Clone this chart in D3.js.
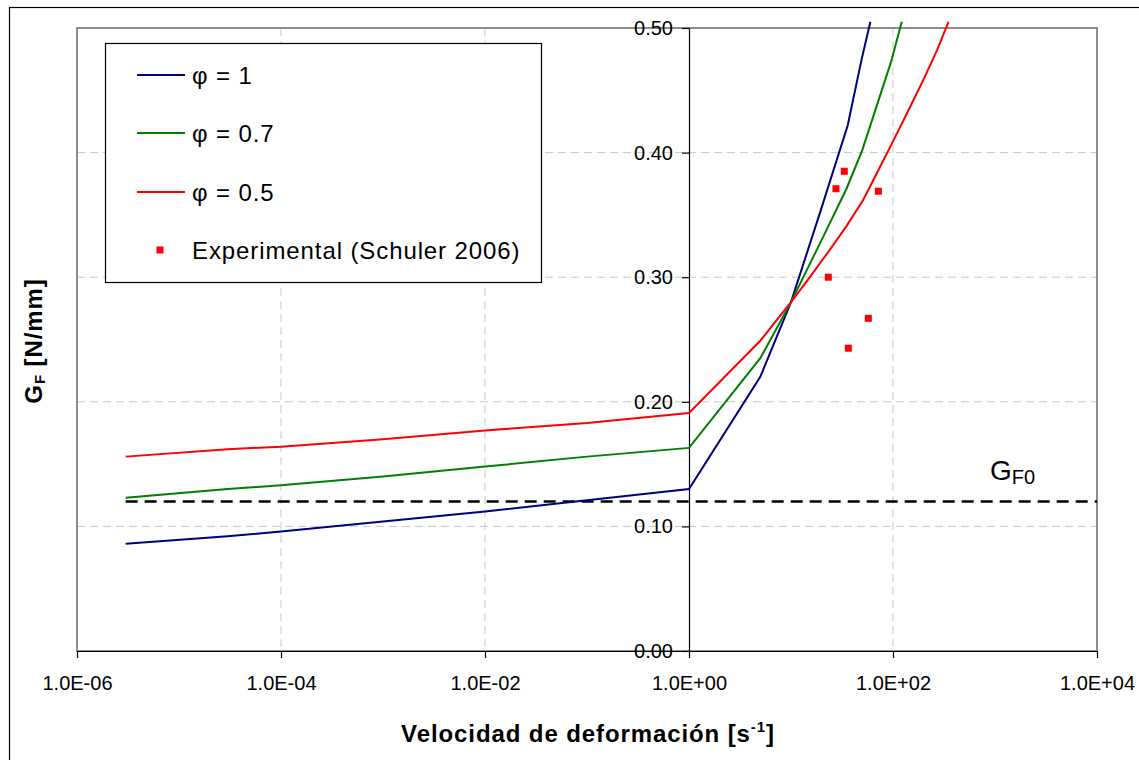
<!DOCTYPE html>
<html lang="es">
<head>
  <meta charset="UTF-8">
  <title>GF vs velocidad de deformación</title>
  <script src="https://d3js.org/d3.v7.min.js"></script>
  <style>
    body { margin: 0; padding: 0; background: #fff; }
    svg { display: block; font-family: "Liberation Sans", Arial, sans-serif; }
    .tick text { font-size: 20px; fill: #000; }
  </style>
</head>
<body>
  <div id="chart"></div>

  <script>
    // Data
    const rateBlue = [3e-6, 3e-5, 1e-4, 1e-3, 1e-2, 1e-1, 1, 5, 10, 20, 36, 49, 60];
    const gfBlue   = [0.086, 0.092, 0.096, 0.104, 0.112, 0.121, 0.130, 0.220, 0.280, 0.356, 0.422, 0.474, 0.505];

    const rateGreen = [3e-6, 3e-5, 1e-4, 1e-3, 1e-2, 1e-1, 1, 5, 10, 20, 35, 50, 95, 122];
    const gfGreen   = [0.123, 0.130, 0.133, 0.140, 0.148, 0.156, 0.163, 0.235, 0.280, 0.330, 0.371, 0.402, 0.472, 0.505];

    const rateRed = [3e-6, 3e-5, 1e-4, 1e-3, 1e-2, 1e-1, 1, 5, 10, 15, 24, 35, 51, 70, 100, 150, 200, 270, 350];
    const gfRed   = [0.156, 0.162, 0.164, 0.170, 0.177, 0.183, 0.191, 0.249, 0.280, 0.299, 0.322, 0.341, 0.362, 0.384, 0.409, 0.438, 0.459, 0.482, 0.505];

    const rateExp = [23.2, 27.6, 33.3, 36.5, 57.3, 71.8];
    const gfExp   = [0.300, 0.371, 0.385, 0.243, 0.267, 0.369];

    const rateGF0 = [3e-6, 1e4];
    const gfGF0   = [0.12, 0.12];

    const xTicks = [1e-6, 1e-4, 1e-2, 1, 1e2, 1e4];
    const yTicks = [0, 0.1, 0.2, 0.3, 0.4, 0.5];

    const legendLabels = ["φ = 1", "φ = 0.7", "φ = 0.5", "Experimental (Schuler 2006)"];
    const seriesColors = ["#000080", "#008000", "#ff0000"];

    const width = 1139, height = 760;
    const plotLeft = 77, plotRight = 1097, plotTop = 28, plotBottom = 651;

    const svg = d3.select("#chart")
      .append("svg")
      .attr("width", width)
      .attr("height", height);

    // Outer chart frame
    svg.append("rect")
      .attr("x", 9.5).attr("y", 7.5)
      .attr("width", 1140).attr("height", 760)
      .attr("fill", "none")
      .attr("stroke", "#000")
      .attr("stroke-width", 1.2);

    const x = d3.scaleLog().domain([1e-6, 1e4]).range([plotLeft, plotRight]);
    const y = d3.scaleLinear().domain([0, 0.5]).range([plotBottom, plotTop]);

    // Gridlines
    svg.append("g")
      .selectAll("line")
      .data([1e-4, 1e-2, 1e2])
      .join("line")
      .attr("x1", d => x(d)).attr("x2", d => x(d))
      .attr("y1", plotTop).attr("y2", plotBottom)
      .attr("stroke", "#c8c8c8")
      .attr("stroke-dasharray", "8,5");

    svg.append("g")
      .selectAll("line")
      .data(yTicks.slice(1, 5))
      .join("line")
      .attr("x1", plotLeft).attr("x2", plotRight)
      .attr("y1", d => y(d)).attr("y2", d => y(d))
      .attr("stroke", "#c8c8c8")
      .attr("stroke-dasharray", "8,5");

    // Plot area border
    svg.append("rect")
      .attr("x", plotLeft).attr("y", plotTop)
      .attr("width", plotRight - plotLeft).attr("height", plotBottom - plotTop)
      .attr("fill", "none")
      .attr("stroke", "#8c8c8c")
      .attr("stroke-width", 2);

    // Axes
    const fmtExp = d => {
      const e = Math.round(Math.log10(d));
      return "1.0E" + (e < 0 ? "-" : "+") + String(Math.abs(e)).padStart(2, "0");
    };

    const xAxis = svg.append("g")
      .attr("transform", `translate(0, ${plotBottom})`)
      .call(d3.axisBottom(x).tickValues(xTicks).tickFormat(fmtExp)
        .tickSize(7).tickSizeOuter(0).tickPadding(18));

    const yAxis = svg.append("g")
      .attr("transform", `translate(${x(1)}, 0)`)
      .call(d3.axisLeft(y).tickValues(yTicks).tickFormat(d3.format(".2f"))
        .tickSize(7).tickSizeOuter(0).tickPadding(9));

    [xAxis, yAxis].forEach(a => {
      a.attr("font-family", null).attr("font-size", null);
      a.selectAll("path, line").attr("stroke", "#000").attr("stroke-width", 1.2);
    });

    // GF0 reference line
    const line = d3.line().x(d => x(d[0])).y(d => y(d[1]));

    svg.append("path")
      .datum(d3.zip(rateGF0, gfGF0))
      .attr("d", line)
      .attr("fill", "none")
      .attr("stroke", "#000")
      .attr("stroke-width", 2.5)
      .attr("stroke-dasharray", "12,7");

    // Model curves
    const series = [
      [rateBlue, gfBlue],
      [rateGreen, gfGreen],
      [rateRed, gfRed]
    ];

    series.forEach((s, i) => {
      svg.append("path")
        .datum(d3.zip(s[0], s[1]))
        .attr("d", line)
        .attr("fill", "none")
        .attr("stroke", seriesColors[i])
        .attr("stroke-width", 2);
    });

    // Experimental points
    svg.append("g")
      .selectAll("rect")
      .data(d3.zip(rateExp, gfExp))
      .join("rect")
      .attr("x", d => x(d[0]) - 3.5)
      .attr("y", d => y(d[1]) - 3.5)
      .attr("width", 7).attr("height", 7)
      .attr("fill", "#ff0000");

    // GF0 label
    const gLabel = svg.append("text")
      .attr("x", 990).attr("y", 480)
      .attr("font-size", 28);
    gLabel.append("tspan").text("G");
    gLabel.append("tspan").attr("font-size", 20).attr("dy", 4).text("F0");

    // Legend
    const legend = svg.append("g");
    legend.append("rect")
      .attr("x", 105.5).attr("y", 43.5)
      .attr("width", 436).attr("height", 239)
      .attr("fill", "#fff")
      .attr("stroke", "#000")
      .attr("stroke-width", 1.2);

    const rowY = [75, 133, 192, 250];
    legendLabels.forEach((lab, i) => {
      if (i < 3) {
        legend.append("line")
          .attr("x1", 137).attr("x2", 185)
          .attr("y1", rowY[i]).attr("y2", rowY[i])
          .attr("stroke", seriesColors[i])
          .attr("stroke-width", 2);
      } else {
        legend.append("rect")
          .attr("x", 156.5).attr("y", rowY[i] - 3.5)
          .attr("width", 7).attr("height", 7)
          .attr("fill", "#ff0000");
      }
      legend.append("text")
        .attr("x", 192).attr("y", rowY[i] + 8.5)
        .attr("font-size", 24)
        .attr("letter-spacing", 0.9)
        .text(lab);
    });

    // Axis titles
    const xTitle = svg.append("text")
      .attr("x", 588).attr("y", 742)
      .attr("text-anchor", "middle")
      .attr("font-size", 24)
      .attr("font-weight", "bold")
      .attr("letter-spacing", 0.9);
    xTitle.append("tspan").text("Velocidad de deformación [s");
    xTitle.append("tspan").attr("font-size", 15).attr("dy", -10).text("-1");
    xTitle.append("tspan").attr("dy", 10).text("]");

    const yTitle = svg.append("text")
      .attr("transform", "translate(42, 341) rotate(-90)")
      .attr("text-anchor", "middle")
      .attr("font-size", 24)
      .attr("font-weight", "bold")
      .attr("letter-spacing", 0.9);
    yTitle.append("tspan").text("G");
    yTitle.append("tspan").attr("font-size", 15).attr("dy", 3).text("F");
    yTitle.append("tspan").attr("dy", -3).text(" [N/mm]");
  </script>
</body>
</html>
